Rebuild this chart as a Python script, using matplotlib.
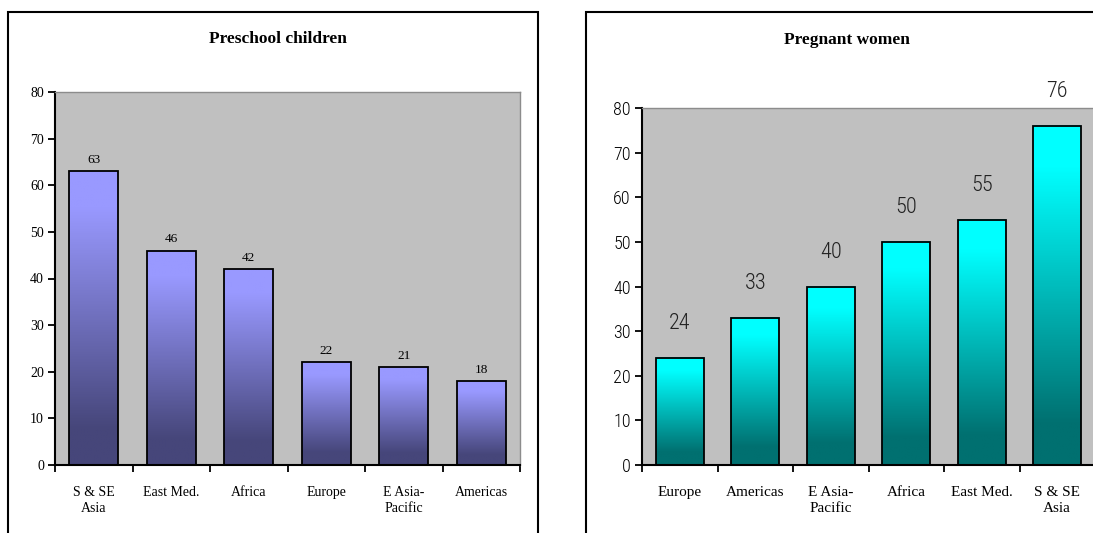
"""Anaemia prevalence by region: preschool children vs pregnant women."""
import matplotlib
matplotlib.use("Agg")
import matplotlib.pyplot as plt
import numpy as np
from matplotlib.colors import LinearSegmentedColormap
from matplotlib.patches import Rectangle

W, H = 1093, 533

child_regions = ["S & SE\nAsia", "East Med.", "Africa", "Europe", "E Asia-\nPacific", "Americas"]
child_values = [63, 46, 42, 22, 21, 18]

women_regions = ["Europe", "Americas", "E Asia-\nPacific", "Africa", "East Med.", "S & SE\nAsia"]
women_values = [24, 33, 40, 50, 55, 76]

yticks = [0, 10, 20, 30, 40, 50, 60, 70, 80]

SERIF = ["Liberation Serif", "DejaVu Serif"]
NARROW = ["Roboto Condensed", "DejaVu Sans"]


def fig_rect(x0, y0, x1, y1):
    """pixel box (top-left origin) -> figure fraction [l, b, w, h]"""
    return [x0 / W, 1 - y1 / H, (x1 - x0) / W, (y1 - y0) / H]


def gradient_bars(ax, values, dark, light, width=0.63):
    cmap = LinearSegmentedColormap.from_list(
        "g", [(0.0, dark), (0.12, dark), (0.88, light), (1.0, light)])
    t = np.linspace(0, 1, 200).reshape(-1, 1)
    for i, v in enumerate(values):
        x0, x1 = i + 0.5 - width / 2, i + 0.5 + width / 2
        ax.imshow(t, extent=[x0, x1, 0, v], origin="lower", aspect="auto",
                  cmap=cmap, zorder=2, interpolation="bilinear")
    ax.bar(np.arange(len(values)) + 0.5, values, width=width, fill=False,
           edgecolor="black", linewidth=1.3, zorder=3)


def style_axes(ax, labels, tick_font, tick_size, label_size, **tick_kw):
    ax.set_facecolor("#c0c0c0")
    ax.set_xlim(0, len(labels))
    ax.set_ylim(0, 80)
    ax.set_yticks(yticks)
    ax.set_yticklabels([str(v) for v in yticks], family=tick_font,
                       fontsize=tick_size, **tick_kw)
    ax.set_xticks(np.arange(len(labels) + 1))
    ax.set_xticklabels([])
    ax.set_xticks(np.arange(len(labels)) + 0.5, minor=True)
    ax.set_xticklabels(labels, minor=True, family=SERIF, fontsize=label_size,
                       linespacing=1.3, va="top")
    ax.tick_params(axis="x", which="minor", length=0, pad=15)
    ax.tick_params(axis="x", which="major", direction="out", length=5, width=1.3)
    ax.tick_params(axis="y", direction="out", length=5, width=1.3, pad=3)
    for s in ("left", "bottom"):
        ax.spines[s].set_linewidth(1.5)
    for s in ("top", "right"):
        ax.spines[s].set_color("#8c8c8c")
        ax.spines[s].set_linewidth(1.0)


fig = plt.figure(figsize=(W / 100, H / 100), dpi=100)
fig.patch.set_facecolor("white")

# panel frames
for x0, x1 in ((8, 538), (586, 1120)):
    l, b, w, h = fig_rect(x0, 12, x1, 560)
    fig.patches.append(Rectangle((l, b), w, h, transform=fig.transFigure,
                                 fill=False, edgecolor="black", linewidth=1.5))

# --- preschool children
ax1 = fig.add_axes(fig_rect(55, 92, 520, 465))
gradient_bars(ax1, child_values, "#46467a", "#9999ff")
style_axes(ax1, child_regions, SERIF, 10, 10)
for i, v in enumerate(child_values):
    ax1.annotate(str(v), (i + 0.5, v), xytext=(0, 4), textcoords="offset points",
                 ha="center", va="bottom", family=SERIF, fontsize=9.5)
fig.text(278 / W, 1 - 39 / H, "Preschool children", ha="center", va="center",
         family=SERIF, fontsize=12.5, fontweight="bold")

# --- pregnant women
ax2 = fig.add_axes(fig_rect(642, 108, 1095, 465))
gradient_bars(ax2, women_values, "#007070", "#00ffff")
style_axes(ax2, women_regions, NARROW, 13, 11, fontstretch="condensed",
           fontweight="light")
for i, v in enumerate(women_values):
    ax2.annotate(str(v), (i + 0.5, v), xytext=(0, 17), textcoords="offset points",
                 ha="center", va="bottom", family=NARROW, fontsize=16,
                 fontstretch="condensed", fontweight="light", color="#222222",
                 annotation_clip=False)
fig.text(847 / W, 1 - 40 / H, "Pregnant women", ha="center", va="center",
         family=SERIF, fontsize=12.5, fontweight="bold")

fig.savefig("out.png", dpi=100)
